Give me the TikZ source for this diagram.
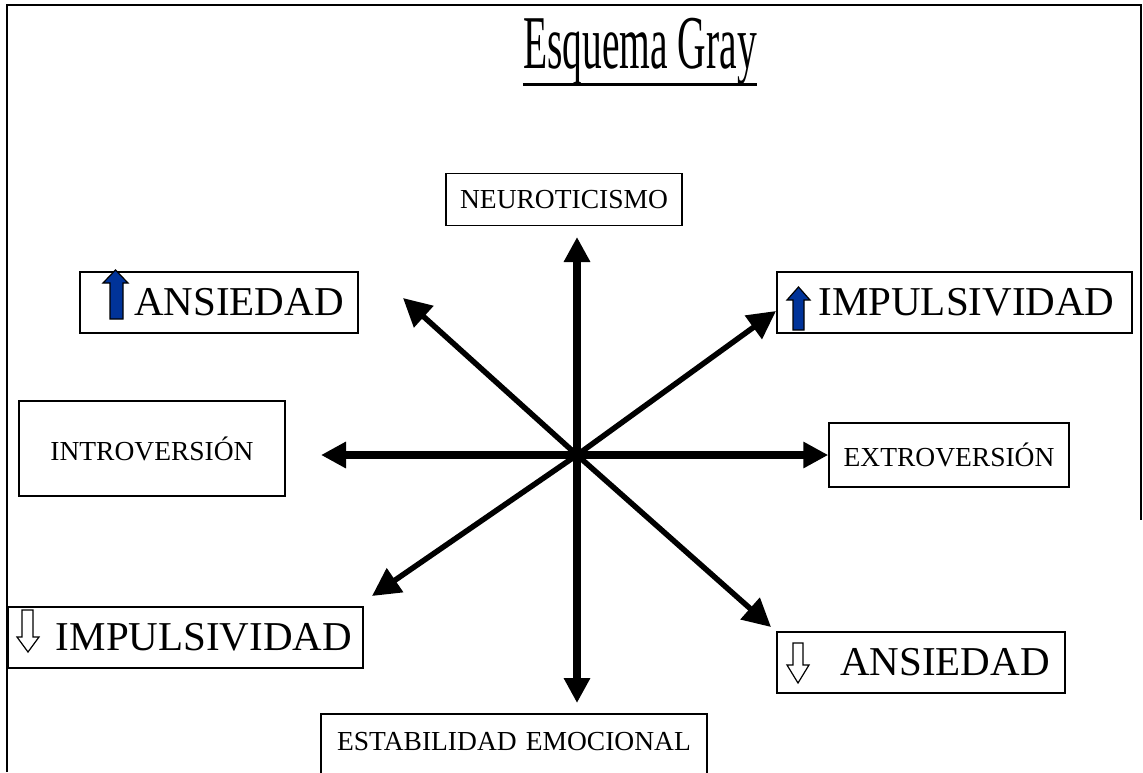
\documentclass[tikz,border=0pt]{standalone}
\usepackage{fontspec}
\setmainfont{Liberation Serif}
\usepackage{tikz}
\usetikzlibrary{arrows.meta,calc}
\definecolor{iconblue}{RGB}{0,51,153}
\tikzset{
  labelbox/.style={draw, line width=1.5, inner sep=0pt, font=\fontsize{27.5}{30}\selectfont},
  bigbox/.style={draw, line width=1.5, inner sep=0pt, minimum height=61, font=\fontsize{41}{46}\selectfont},
  axisarrow/.style={line width=8, -{Triangle[length=25pt,width=25pt]}},
  diagarrow/.style={line width=5.5, -{Triangle[length=28pt,width=28pt]}},
  upicon/.style={draw=black, fill=iconblue, line width=1.2},
  downicon/.style={draw=black, fill=white, line width=1.2},
}

\begin{document}
\begin{tikzpicture}[x=1pt,y=1pt,yscale=-1,xscale=1]
\useasboundingbox (0,0) rectangle (1143,772);

% frame
\draw[line width=2] (7,772) -- (7,5) -- (1141,5) -- (1141,520);

% title
\node[font=\fontsize{76}{80}\selectfont, inner sep=0pt, anchor=base] (title) at (640,68) {\scalebox{0.52}[1]{Esquema Gray}};
\draw[line width=3] ($(title.base west)+(0,16)$) -- ($(title.base east)+(0,16)$);

% axis labels
\node[labelbox, minimum width=236, minimum height=52] (neuro) at (564,199.5) {NEUROTICISMO};
\node[labelbox, minimum width=266, minimum height=95] (intro) at (152,448.5) {INTROVERSIÓN};
\node[labelbox, minimum width=240, minimum height=64] (extro) at (949,455) {EXTROVERSIÓN};
\node[labelbox, anchor=base, text height=36, text depth=40, text width=386, align=center] (estab) at (514,750) {ESTABILIDAD EMOCIONAL};

% diagonal labels
\node[bigbox, minimum width=278] (ansA) at (219,302.5) {\hspace*{40pt}ANSIEDAD};
\node[bigbox, minimum width=355] (impA) at (954.5,302.5) {\hspace*{24pt}IMPULSIVIDAD};
\node[bigbox, minimum width=355] (impB) at (185.5,637.5) {\hspace*{37pt}IMPULSIVIDAD};
\node[bigbox, minimum width=288] (ansB) at (921,662.5) {\hspace*{48pt}ANSIEDAD};

% icons
\draw[upicon] (115.5,270) -- (128,283) -- (123,283) -- (123,319) -- (110,319) -- (110,283) -- (103,283) -- cycle;
\draw[upicon] (798.5,287) -- (810,300) -- (804,300) -- (804,330) -- (793,330) -- (793,300) -- (787,300) -- cycle;
\draw[downicon] (22,610) -- (33,610) -- (33,637) -- (39,637) -- (28,652) -- (17,637) -- (22,637) -- cycle;
\draw[downicon] (793,643) -- (803,643) -- (803,665) -- (809,665) -- (798,683) -- (787,665) -- (793,665) -- cycle;

% arrows
\coordinate (c) at (577,455);
\coordinate (tN) at (577,237);
\coordinate (tS) at (577,703);
\coordinate (tW) at (321,455);
\coordinate (tNW) at (403,298);
\coordinate (tNE) at (776,311);
\coordinate (tSW) at (372,596);
\coordinate (tSE) at (771,627);
\draw[axisarrow] (c) -- (tN);
\draw[axisarrow] (c) -- (tS);
\draw[axisarrow] (c) -- (tW);
\draw[axisarrow] (c) -- (extro.west);
\draw[diagarrow] (c) -- (tNW);
\draw[diagarrow] (c) -- (tNE);
\draw[diagarrow] (c) -- (tSW);
\draw[diagarrow] (c) -- (tSE);

\end{tikzpicture}
\end{document}
